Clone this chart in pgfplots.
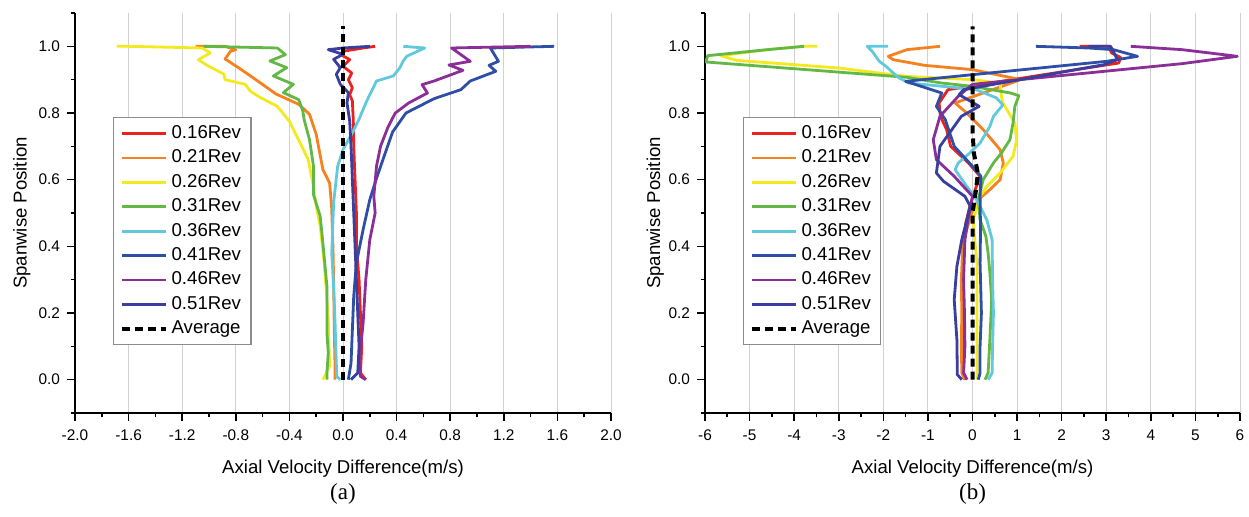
\documentclass[border=0pt]{standalone}
\usepackage{pgfplots}
\pgfplotsset{compat=1.18}
\usepackage{fontspec}
\setmainfont{Liberation Sans}
\newfontfamily\timesfont{Liberation Serif}

\definecolor{cRed}{HTML}{E8231F}
\definecolor{cOrange}{HTML}{F5821F}
\definecolor{cYellow}{HTML}{F2EA1E}
\definecolor{cGreen}{HTML}{62B845}
\definecolor{cCyan}{HTML}{62C9DD}
\definecolor{cBlue}{HTML}{2E4FA6}
\definecolor{cPurple}{HTML}{8B2E98}
\definecolor{cNavy}{HTML}{3A3E9E}

\pgfplotsset{
  mystyle/.style={
    scale only axis, height=200pt,
    ymin=-0.1, ymax=1.1,
    axis x line*=bottom, axis y line*=left,
    axis line style={-, line width=0.9pt},
    tick align=outside, major tick length=4pt, minor tick length=2.2pt,
    every tick/.style={line width=0.8pt, black},
    ytick={0,0.2,0.4,0.6,0.8,1.0}, yticklabels={0.0,0.2,0.4,0.6,0.8,1.0},
    minor ytick={-0.1,0.1,0.3,0.5,0.7,0.9,1.1},
    xmajorgrids, major grid style={line width=0.5pt, color=black!18},
    /pgf/number format/assume math mode=true,
    tick label style={font=\fontsize{7.7}{9}\selectfont},
    xticklabel style={yshift=-1pt},
    label style={font=\fontsize{9.3}{11}\selectfont},
    xlabel={Axial Velocity Difference(m/s)},
    ylabel={Spanwise Position},
    xlabel style={at={(axis description cs:0.5,-0.138)}, anchor=center},
    legend cell align=left,
    legend style={at={(0.071,0.74)}, anchor=north west, draw=black!45, line width=0.6pt,
      font=\fontsize{9.3}{11}\selectfont, row sep=0.2pt, inner xsep=3pt, inner ysep=2pt},
    legend image code/.code={\draw[#1] (0pt,0pt) -- (22pt,0pt);},
    every axis plot/.append style={line width=1.4pt, line join=round},
  },
  avg/.style={black, line width=2pt, dash pattern=on 4pt off 2.5pt},
}

\begin{document}
\begin{tikzpicture}
\useasboundingbox (0,0) rectangle (624.5pt,258.5pt);

% ---------------- (a) ----------------
\begin{axis}[mystyle, name=axA, at={(37.5pt,52pt)}, anchor=south west, width=268pt,
  xmin=-2, xmax=2,
  xtick={-2,-1.6,-1.2,-0.8,-0.4,0,0.4,0.8,1.2,1.6,2},
  xticklabels={-2.0,-1.6,-1.2,-0.8,-0.4,0.0,0.4,0.8,1.2,1.6,2.0},
  minor xtick={-1.8,-1.4,-1.0,-0.6,-0.2,0.2,0.6,1.0,1.4,1.8},
  ylabel style={at={(axis description cs:-0.099,0.5)}, anchor=center},
]
\addplot[cRed] coordinates {(0.24,1.0) (0.15,0.995) (0.0,0.985) (-0.02,0.976) (0.05,0.96) (0.0,0.94) (0.065,0.92) (0.04,0.90) (0.07,0.876) (0.05,0.855) (0.07,0.836) (0.077,0.776) (0.08,0.70) (0.09,0.6) (0.10,0.5) (0.10,0.4) (0.12,0.3) (0.13,0.2) (0.14,0.1) (0.13,0.02) (0.17,0.0)};
\addlegendentry{0.16Rev}
\addplot[cOrange] coordinates {(-1.10,1.0) (-0.88,1.0) (-0.80,0.99) (-0.84,0.985) (-0.88,0.962) (-0.78,0.936) (-0.64,0.897) (-0.50,0.857) (-0.33,0.826) (-0.25,0.796) (-0.20,0.736) (-0.15,0.63) (-0.10,0.59) (-0.085,0.52) (-0.075,0.40) (-0.07,0.30) (-0.065,0.15) (-0.06,0.05) (-0.06,0.0)};
\addlegendentry{0.21Rev}
\addplot[cYellow] coordinates {(-1.69,1.0) (-1.6,1.0) (-1.05,0.995) (-0.99,0.98) (-1.08,0.96) (-1.01,0.942) (-0.89,0.917) (-0.88,0.90) (-0.73,0.886) (-0.69,0.865) (-0.62,0.847) (-0.49,0.82) (-0.40,0.775) (-0.32,0.71) (-0.26,0.66) (-0.22,0.58) (-0.20,0.52) (-0.17,0.46) (-0.14,0.35) (-0.127,0.28) (-0.11,0.18) (-0.10,0.04) (-0.15,0.0)};
\addlegendentry{0.26Rev}
\addplot[cGreen] coordinates {(-1.04,1.0) (-0.49,0.995) (-0.43,0.975) (-0.545,0.956) (-0.42,0.936) (-0.52,0.911) (-0.37,0.886) (-0.445,0.861) (-0.33,0.84) (-0.30,0.806) (-0.29,0.78) (-0.25,0.72) (-0.22,0.64) (-0.22,0.555) (-0.17,0.49) (-0.15,0.41) (-0.12,0.28) (-0.12,0.14) (-0.11,0.08) (-0.12,0.02) (-0.12,0.0)};
\addlegendentry{0.31Rev}
\addplot[cCyan] coordinates {(0.45,1.0) (0.61,0.995) (0.475,0.97) (0.45,0.956) (0.425,0.936) (0.375,0.911) (0.25,0.896) (0.226,0.876) (0.177,0.836) (0.114,0.776) (0.077,0.746) (0.0,0.69) (-0.04,0.64) (-0.07,0.53) (-0.084,0.38) (-0.07,0.28) (-0.06,0.18) (-0.05,0.05) (-0.047,0.01) (-0.02,0.0)};
\addlegendentry{0.36Rev}
\addplot[cBlue] coordinates {(1.575,1.0) (1.10,0.995) (1.16,0.955) (1.09,0.943) (1.14,0.925) (0.95,0.896) (0.88,0.87) (0.68,0.843) (0.47,0.80) (0.37,0.743) (0.31,0.674) (0.25,0.604) (0.20,0.54) (0.15,0.45) (0.10,0.35) (0.08,0.25) (0.07,0.15) (0.06,0.05) (0.04,0.0)};
\addlegendentry{0.41Rev}
\addplot[cPurple] coordinates {(1.40,1.0) (0.81,0.995) (0.95,0.955) (0.79,0.944) (0.895,0.928) (0.68,0.896) (0.59,0.885) (0.63,0.86) (0.49,0.83) (0.39,0.80) (0.335,0.757) (0.28,0.70) (0.25,0.64) (0.23,0.55) (0.24,0.50) (0.20,0.42) (0.17,0.30) (0.15,0.17) (0.12,0.05) (0.13,0.01) (0.17,0.0)};
\addlegendentry{0.46Rev}
\addplot[cNavy] coordinates {(0.20,1.0) (0.0,0.995) (-0.11,0.99) (0.0,0.976) (-0.07,0.961) (-0.02,0.936) (-0.05,0.916) (-0.02,0.886) (0.04,0.861) (0.03,0.83) (0.05,0.776) (0.06,0.70) (0.07,0.60) (0.08,0.50) (0.09,0.40) (0.10,0.30) (0.11,0.2) (0.12,0.1) (0.11,0.02) (0.06,0.0)};
\addlegendentry{0.51Rev}
\addplot[avg] coordinates {(0,0) (0,1.06)};
\addlegendentry{Average}
\end{axis}
\node[font=\timesfont\fontsize{11.5}{13}\selectfont] at ([yshift=-40.5pt]axA.south) {(a)};

% ---------------- (b) ----------------
\begin{axis}[mystyle, name=axB, at={(352.5pt,52pt)}, anchor=south west, width=267.5pt,
  xmin=-6, xmax=6,
  xtick={-6,-5,...,6},
  xticklabels={-6,-5,-4,-3,-2,-1,0,1,2,3,4,5,6},
  minor xtick={-5.5,-4.5,-3.5,-2.5,-1.5,-0.5,0.5,1.5,2.5,3.5,4.5,5.5},
  ylabel style={at={(axis description cs:-0.093,0.5)}, anchor=center},
]
\addplot[cRed] coordinates {(2.4,1.0) (3.05,1.0) (3.12,0.98) (3.32,0.967) (3.28,0.95) (-0.55,0.87) (-0.75,0.83) (-0.72,0.79) (-0.58,0.75) (-0.49,0.70) (-0.09,0.65) (0.17,0.61) (0.06,0.57) (-0.06,0.52) (-0.15,0.47) (-0.2,0.40) (-0.22,0.30) (-0.22,0.2) (-0.2,0.1) (-0.2,0.02) (-0.15,0.0)};
\addlegendentry{0.16Rev}
\addplot[cOrange] coordinates {(-0.73,1.0) (-1.47,0.99) (-1.89,0.97) (-1.78,0.96) (-1.08,0.943) (0,0.93) (1.08,0.90) (-0.39,0.83) (-0.13,0.80) (0.24,0.75) (0.62,0.69) (0.69,0.65) (0.62,0.60) (0.39,0.57) (0.13,0.54) (-0.02,0.50) (-0.13,0.45) (-0.22,0.40) (-0.25,0.3) (-0.24,0.2) (-0.25,0.1) (-0.24,0.02) (-0.18,0.0)};
\addlegendentry{0.21Rev}
\addplot[cYellow] coordinates {(-3.48,1.0) (-3.78,1.0) (-4.6,0.99) (-5.65,0.972) (-5.3,0.958) (-3.0,0.935) (-1.5,0.91) (0,0.90) (0.62,0.89) (0.65,0.85) (0.68,0.83) (0.95,0.77) (0.99,0.72) (0.91,0.67) (0.62,0.62) (0.32,0.58) (0.17,0.55) (0.02,0.48) (0.05,0.42) (0.1,0.35) (0.1,0.2) (0.1,0.1) (0.1,0.0)};
\addlegendentry{0.26Rev}
\addplot[cGreen] coordinates {(-3.78,1.0) (-4.6,0.99) (-5.94,0.972) (-5.98,0.953) (-1.47,0.907) (-0.7,0.89) (0,0.88) (0.85,0.86) (1.04,0.852) (0.95,0.82) (0.91,0.77) (0.84,0.72) (0.65,0.68) (0.47,0.65) (0.24,0.60) (0.13,0.54) (0.17,0.48) (0.3,0.43) (0.35,0.38) (0.39,0.32) (0.43,0.24) (0.39,0.12) (0.35,0.02) (0.28,0.0)};
\addlegendentry{0.31Rev}
\addplot[cCyan] coordinates {(-1.89,1.0) (-2.36,1.0) (-2.25,0.985) (-2.09,0.955) (-1.94,0.94) (-1.67,0.907) (-1.43,0.89) (0.08,0.87) (0.54,0.845) (0.68,0.824) (0.47,0.79) (0.39,0.76) (0.17,0.71) (-0.06,0.68) (-0.32,0.65) (-0.39,0.63) (-0.13,0.58) (0.09,0.54) (0.32,0.48) (0.44,0.42) (0.45,0.3) (0.47,0.2) (0.45,0.1) (0.44,0.02) (0.35,0.0)};
\addlegendentry{0.36Rev}
\addplot[cBlue] coordinates {(1.42,1.0) (2.6,0.995) (3.16,0.99) (3.7,0.97) (3.01,0.955) (-1.5,0.895) (-0.69,0.86) (-0.81,0.82) (-0.61,0.78) (-0.41,0.70) (0,0.64) (0.19,0.61) (0.17,0.55) (0.18,0.45) (0.17,0.35) (0.2,0.2) (0.17,0.1) (0.17,0.02) (0.13,0.0)};
\addlegendentry{0.41Rev}
\addplot[cPurple] coordinates {(3.55,1.0) (4.7,0.99) (5.94,0.97) (4.7,0.948) (0,0.886) (-0.32,0.85) (-0.73,0.79) (-0.88,0.72) (-0.81,0.66) (-0.41,0.61) (0,0.55) (-0.1,0.48) (-0.17,0.42) (-0.2,0.3) (-0.18,0.2) (-0.17,0.1) (-0.2,0.02) (-0.12,0.0)};
\addlegendentry{0.46Rev}
\addplot[cNavy] coordinates {(2.6,1.0) (3.1,1.0) (3.25,0.96) (2.95,0.945) (-0.2,0.87) (-0.3,0.855) (0.15,0.82) (-0.25,0.79) (-0.73,0.70) (-0.81,0.62) (-0.65,0.595) (-0.17,0.55) (-0.05,0.52) (-0.24,0.42) (-0.35,0.34) (-0.41,0.24) (-0.35,0.12) (-0.34,0.015) (-0.24,0.0)};
\addlegendentry{0.51Rev}
\addplot[avg] coordinates {(0,0) (0,0.5) (0.08,0.57) (0.12,0.62) (0.03,0.68) (0,0.75) (0,1.06)};
\addlegendentry{Average}
\end{axis}
\node[font=\timesfont\fontsize{11.5}{13}\selectfont] at ([yshift=-40.5pt]axB.south) {(b)};
\end{tikzpicture}
\end{document}
